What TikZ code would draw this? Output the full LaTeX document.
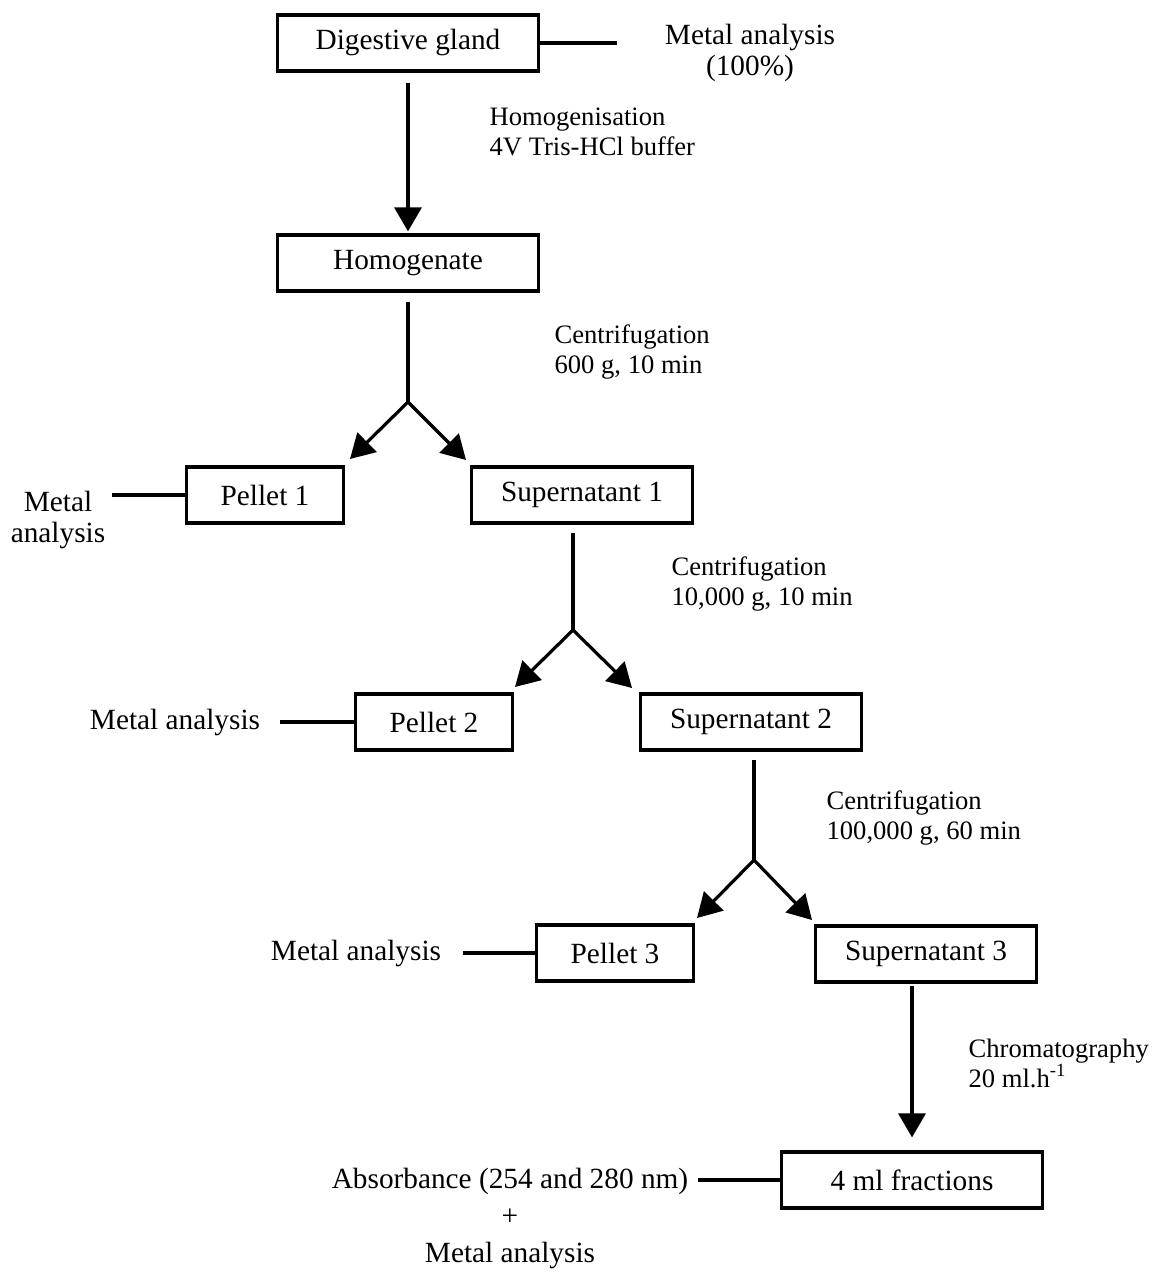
\documentclass[tikz,border=0pt]{standalone}
\usepackage{fontspec}
\setmainfont{Liberation Serif}
\usetikzlibrary{arrows.meta,positioning,calc}

\begin{document}
\begin{tikzpicture}[x=0.5pt, y=-0.5pt, line width=1.6pt,
  every node/.style={font=\fontsize{14.65}{15.5}\selectfont},
  stage/.style={draw, rectangle, minimum height=28pt, inner sep=0pt, anchor=center},
  wide/.style={stage, minimum width=130.5pt},
  mid/.style={stage, minimum width=110.5pt},
  small/.style={stage, minimum width=78.5pt},
  note/.style={inner sep=0pt, align=left, anchor=west, font=\fontsize{13.3}{15}\selectfont},
  result/.style={inner sep=0pt, align=center},
  link/.style={line width=1.6pt},
  flow/.style={line width=1.6pt, -{Triangle[length=12pt,width=13.5pt]}}]
\useasboundingbox (0,0) rectangle (1153,1272);

% boxes of the fractionation
\node[wide]  (gland) at (408,43)   {Digestive gland};
\node[wide]  (homog) at (408,263)  {Homogenate};
\node[small] (pel1)  at (265,495)  {Pellet 1};
\node[mid]   (sup1)  at (582,495)  {Supernatant 1};
\node[small] (pel2)  at (434,722)  {Pellet 2};
\node[mid]   (sup2)  at (751,722)  {Supernatant 2};
\node[small] (pel3)  at (615,953)  {Pellet 3};
\node[mid]   (sup3)  at (926,954)  {Supernatant 3};
\node[wide]  (frac)  at (912,1180) {4 ml fractions};

% side texts
\node[result] (ma0) at (750,53)  {Metal analysis\\(100\%)};
\node[result] (ma1) at (58,520)  {Metal\\analysis};
\node[result] (ma2) at (175,722) {Metal analysis};
\node[result] (ma3) at (356,953) {Metal analysis};
\node[result, font=\fontsize{14.65}{18.5}\selectfont] (absb) at (510,1218)
  {Absorbance (254 and 280 nm)\\+\\Metal analysis};

\node[note] (homtxt) at (488,132)  {Homogenisation\\4V Tris-HCl buffer};
\node[note] (cen1)   at (553,352)  {Centrifugation\\600 g, 10 min};
\node[note] (cen2)   at (670,584)  {Centrifugation\\10,000 g, 10 min};
\node[note] (cen3)   at (825,818)  {Centrifugation\\100,000 g, 60 min};
\node[note] (chrom)  at (967,1063) {Chromatography\\20 ml.h\textsuperscript{-1}};

% split points
\coordinate (br1) at (408,402);
\coordinate (br2) at (573,630);
\coordinate (br3) at (754,860);
\coordinate (tip1l) at (350,459);
\coordinate (tip1r) at (466,460);
\coordinate (tip2l) at (515,687);
\coordinate (tip2r) at (632,688);
\coordinate (tip3l) at (697,918);
\coordinate (tip3r) at (812,920);

% side lines
\draw[link, shorten >=23pt] (gland.east) -- (gland.east -| ma0.west);
\draw[link, shorten >=2.5pt] (pel1.west) -- (pel1.west -| ma1.east);
\draw[link, shorten >=9pt] (pel2.west) -- (pel2.west -| ma2.east);
\draw[link, shorten >=10pt] (pel3.west) -- (pel3.west -| ma3.east);
\draw[link, shorten >=4pt] (frac.west) -- (frac.west -| absb.east);

% main flow
\draw[flow, shorten <=5pt, shorten >=1pt] (gland) -- (homog);
\draw[link, shorten <=4.5pt] (homog.south) -- (br1);
\draw[flow] (br1) -- (tip1l);
\draw[flow] (br1) -- (tip1r);
\draw[link, shorten <=4pt] (sup1.south -| br2) -- (br2);
\draw[flow] (br2) -- (tip2l);
\draw[flow] (br2) -- (tip2r);
\draw[link, shorten <=4pt] (sup2.south -| br3) -- (br3);
\draw[flow] (br3) -- (tip3l);
\draw[flow] (br3) -- (tip3r);
\draw[flow, shorten <=1pt, shorten >=6.5pt] (sup3.south -| frac.north) -- (frac.north);
\end{tikzpicture}
\end{document}
